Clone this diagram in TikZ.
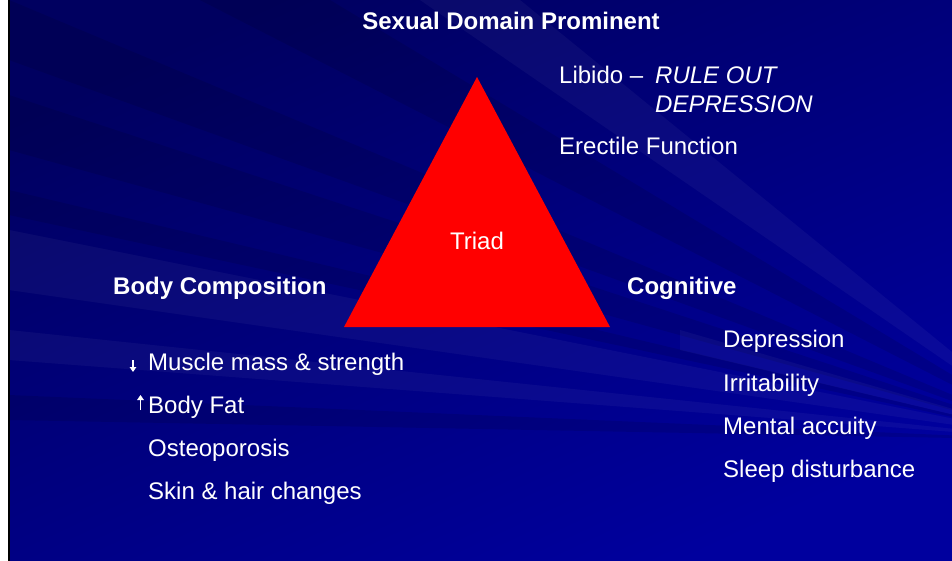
\documentclass[tikz,border=0pt]{standalone}
\usepackage{fontspec}
\setmainfont{Liberation Sans}
\usetikzlibrary{positioning,arrows.meta}
\definecolor{navy}{HTML}{000060}
\definecolor{slideblue}{HTML}{00009E}
\definecolor{triadred}{HTML}{FF0000}
\tikzset{item/.style={anchor=base west,text=white,inner sep=0pt,font=\fontsize{24}{28}\selectfont},
  head/.style={item,font=\fontsize{24}{28}\selectfont\bfseries},
  note/.style={item,font=\fontsize{24}{28}\selectfont\itshape},
  tickarrow/.style={white,line width=1.4pt,-{Triangle[width=6.5pt,length=5pt]}},
  darkray/.style={fill=black,opacity=.10},
  lightray/.style={fill=white,opacity=.04}}

\begin{document}
\begin{tikzpicture}[x=1pt,y=-1pt]
\useasboundingbox (0,0) rectangle (952,561);
% slide background
\fill[white] (0,0) rectangle (9,561);
\shade[top color=navy,bottom color=slideblue,shading angle=25] (9,0) rectangle (952,561);
\coordinate (F) at (1060,440);
\fill[darkray] (F)--(9,0)--(9,60)--cycle;\fill[darkray] (F)--(9,95)--(9,150)--cycle;
\fill[darkray] (F)--(9,190)--(9,215)--cycle;\fill[darkray] (F)--(200,0)--(330,0)--cycle;
\fill[darkray] (F)--(9,395)--(9,420)--cycle;
\fill[lightray] (F)--(9,230)--(9,290)--cycle;\fill[lightray] (F)--(9,330)--(9,360)--cycle;
\fill[lightray] (F)--(420,0)--(520,0)--cycle;\fill[lightray] (F)--(680,330)--(680,350)--cycle;
\draw[black,line width=2pt] (9,0)--(9,561);
% triad
\fill[triadred] (477,77) coordinate (top) -- (610,327) coordinate (right) -- (344,327) coordinate (left) -- cycle;
\node[item,anchor=base] (triad) at (477,249) {Triad};
% sexual domain
\node[head,anchor=base] (sexual) at (511,30) {Sexual Domain Prominent};
\node[item] (libido) at (559,84) {Libido –};
\node[note] (ruleout) at (655,84) {RULE OUT};
\node[note] (depression) at (655,113) {DEPRESSION};
\node[item] (erectile) at (559,155) {Erectile Function};
% body composition
\node[head] (body) at (113,294) {Body Composition};
\node[item] (muscle) at (148,370) {Muscle mass \& strength};
\node[item] (fat) at (148,413) {Body Fat};
\node[item] (osteo) at (148,456) {Osteoporosis};
\node[item] (skin) at (148,499) {Skin \& hair changes};
\coordinate (downtop) at (133,360);\coordinate (downtip) at (133,372);
\coordinate (upfoot) at (140.5,410);\coordinate (uptip) at (140.5,395);
\draw[tickarrow] (downtop)--(downtip);
\draw[tickarrow] (upfoot)--(uptip);
% cognitive
\node[head] (cognitive) at (627,294) {Cognitive};
\node[item] (depress) at (723,347) {Depression};
\node[item] (irrit) at (723,391) {Irritability};
\node[item] (mental) at (723,434) {Mental accuity};
\node[item] (sleep) at (723,477) {Sleep disturbance};
\end{tikzpicture}
\end{document}
